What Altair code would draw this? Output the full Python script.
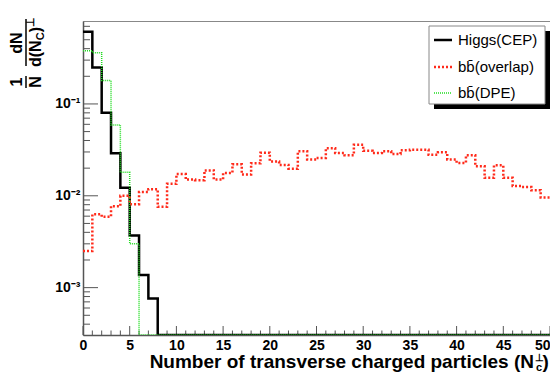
import altair as alt
import pandas as pd

# ---- data (bin width 1, bins 0..49) ----
higgs = [0.61, 0.25, 0.080, 0.029, 0.0122, 0.0037, 0.00137, 0.00076] + [0.0] * 42
overlap = [0.0025, 0.0063, 0.0059, 0.0077, 0.0100, 0.0081, 0.0110, 0.0118, 0.0076, 0.0135,
           0.0173, 0.0150, 0.0148, 0.0189, 0.0150, 0.0177, 0.0220, 0.0170, 0.0226, 0.0295,
           0.0236, 0.0217, 0.0197, 0.0305, 0.0248, 0.0258, 0.0330, 0.0292, 0.0276, 0.0359,
           0.0309, 0.0292, 0.0305, 0.0285, 0.0313, 0.0317, 0.0317, 0.0280, 0.0297, 0.0248,
           0.0228, 0.0276, 0.0210, 0.0157, 0.0215, 0.0157, 0.0128, 0.0125, 0.0115, 0.0096]
dpe = [0.38, 0.36, 0.18, 0.059, 0.018, 0.0030] + [0.0] * 44

x_major = list(range(0, 51, 5))
x_minor = [i for i in range(0, 51) if i % 5 != 0]
y_major = [1e-3, 1e-2, 1e-1]
y_minor = [m * 10.0 ** e for e in (-4, -3, -2, -1) for m in range(2, 10)]
legend_names = ["Higgs(CEP)", "bb\u0304(overlap)", "bb\u0304(DPE)"]

YMIN, YMAX = 3.05e-4, 0.8
W, H = 467, 314
FONT = "Liberation Sans"

xscale = alt.Scale(domain=[0, 50], nice=False, zero=False)
yscale = alt.Scale(type="log", domain=[YMIN, YMAX], nice=False)
xaxis = alt.Axis(values=x_major, format="d", ticks=False, tickSize=0, grid=False, title=None,
                 labelFont=FONT, labelFontWeight="bold", labelFontSize=14, labelPadding=3,
                 labelAlign={"condition": {"test": "datum.value >= 50", "value": "right"}, "value": "center"},
                 labelColor="black", labelFlush=False, domainColor="#555", domainWidth=1.5)
yaxis = alt.Axis(values=y_major, ticks=False, tickSize=0, grid=False, title=None,
                 labelExpr="datum.value > 0.05 ? '10\u207b\u00b9' : (datum.value > 0.005 ? '10\u207b\u00b2' : '10\u207b\u00b3')",
                 labelFont=FONT, labelFontWeight="bold", labelFontSize=14, labelPadding=3,
                 labelColor="black", labelFlush=False, domainColor="#555", domainWidth=1.5)


def step_frame(vals):
    xs = list(range(len(vals))) + [len(vals)]
    ys = [max(v, YMIN) for v in vals] + [max(vals[-1], YMIN)]
    return pd.DataFrame({"x": xs, "y": ys})


def hist(vals, color, width, dash=None):
    kw = dict(interpolate="step-after", color=color, strokeWidth=width, clip=True)
    if dash:
        kw["strokeDash"] = dash
    return alt.Chart(step_frame(vals)).mark_line(**kw).encode(
        x=alt.X("x:Q", scale=xscale, axis=xaxis),
        y=alt.Y("y:Q", scale=yscale, axis=yaxis),
    )


one = pd.DataFrame({"a": [0]})


def txt(text, x, y, size, weight="bold", angle=0, align="center", baseline="middle"):
    return alt.Chart(one).mark_text(text=text, font=FONT, fontSize=size, fontWeight=weight,
                                    angle=angle, align=align, baseline=baseline,
                                    color="black").encode(x=alt.value(x), y=alt.value(y))


def box(x, x2, y, y2, fill, stroke=None):
    kw = dict(fill=fill)
    if stroke:
        kw.update(stroke=stroke, strokeWidth=1)
    return alt.Chart(one).mark_rect(**kw).encode(
        x=alt.value(x), x2=alt.value(x2), y=alt.value(y), y2=alt.value(y2))


def seg(x, x2, y, y2, color, width, dash=None):
    kw = dict(color=color, strokeWidth=width)
    if dash:
        kw["strokeDash"] = dash
    return alt.Chart(one).mark_rule(**kw).encode(
        x=alt.value(x), x2=alt.value(x2), y=alt.value(y), y2=alt.value(y2))


# inward tick marks (ROOT style)
xt_major = alt.Chart(pd.DataFrame({"x": x_major})).mark_rule(color="#555", strokeWidth=1).encode(
    x=alt.X("x:Q", scale=xscale, axis=xaxis), y=alt.value(H), y2=alt.value(H - 9))
xt_minor = alt.Chart(pd.DataFrame({"x": x_minor})).mark_rule(color="#555", strokeWidth=1).encode(
    x=alt.X("x:Q", scale=xscale, axis=xaxis), y=alt.value(H), y2=alt.value(H - 4.5))
yt_major = alt.Chart(pd.DataFrame({"y": y_major})).mark_rule(color="#555", strokeWidth=1).encode(
    y=alt.Y("y:Q", scale=yscale, axis=yaxis), x=alt.value(0), x2=alt.value(15))
ym = [v for v in y_minor if YMIN < v < YMAX]
yt_minor = alt.Chart(pd.DataFrame({"y": ym})).mark_rule(color="#555", strokeWidth=1).encode(
    y=alt.Y("y:Q", scale=yscale, axis=yaxis), x=alt.value(0), x2=alt.value(7))

black = hist(higgs, "black", 2.5)
red = hist(overlap, "#ff2a1a", 2.5, [2, 2])
green = hist(dpe, "#22dd22", 1.5, [1, 1])

# legend
lx0, lx1, ly0, ly1 = 346, 462, 5, 83
legend = [
    box(lx0 + 5, lx1 + 5, ly0 + 5, ly1 + 5, "black"),
    box(lx0, lx1, ly0, ly1, "white", "#888"),
    seg(351, 369, 19, 19, "black", 2.5),
    seg(351, 369, 46, 46, "#ff2a1a", 2.5, [2, 2]),
    seg(351, 369, 72, 72, "#22dd22", 1.5, [1, 1]),
    txt(legend_names[0], 375, 19, 15, "normal", align="left"),
    txt(legend_names[1], 375, 46, 15, "normal", align="left"),
    txt(legend_names[2], 375, 72, 15, "normal", align="left"),
]

# y title: (1/N) dN / d(N_C)^perp, rotated
ytitle = [
    txt("1", -66, 61, 16, angle=270),
    seg(-57, -57, 55, 67, "black", 1.5),
    txt("N", -47, 61, 16, angle=270),
    txt("dN", -66, 22, 16, angle=270),
    seg(-57, -57, -2, 45, "black", 1.5),
    txt("d(N", -47, 46, 16, angle=270, align="left"),
    txt("C", -42, 19.3, 11, angle=270, align="left"),
    txt(")", -47, 11.3, 16, angle=270, align="left"),
    txt("\u22a5", -52, 6, 11, angle=270, align="left"),
]

# x title
xtitle = [
    txt("Number of transverse charged particles (N", W - 16, H + 33, 19, align="right", baseline="alphabetic"),
    txt("\u22a5", W - 11, H + 23, 10),
    txt("c", W - 11, H + 32.5, 11),
    txt(")", W - 7.5, H + 33, 19, align="left", baseline="alphabetic"),
]

chart = alt.layer(
    xt_minor, xt_major, yt_minor, yt_major,
    black, red, green,
    *legend, *ytitle, *xtitle,
).properties(
    width=W, height=H,
    autosize=alt.AutoSizeParams(type="none"),
    padding={"left": 75, "top": 13, "right": 0, "bottom": 37},
).configure_view(stroke="#888", strokeWidth=1)

chart.save("out.html", embed_options={"renderer": "svg", "actions": False})
